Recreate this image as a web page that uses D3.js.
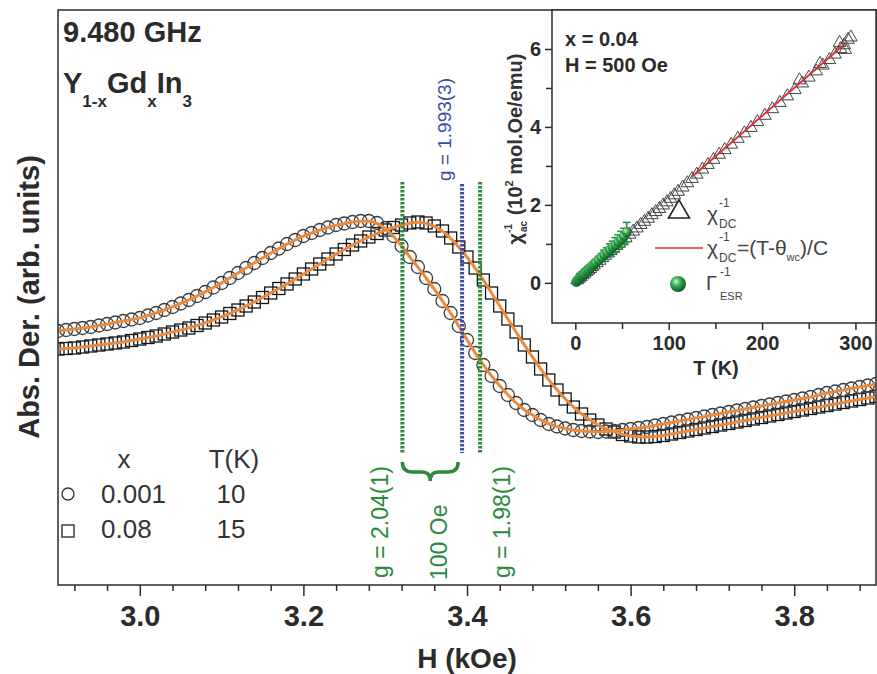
<!DOCTYPE html>
<html>
<head>
<meta charset="utf-8">
<script src="https://cdn.jsdelivr.net/npm/d3@7"></script>
<style>
  body { margin: 0; background: #fff; }
  svg { display: block; font-family: "Liberation Sans", Arial, sans-serif; }
</style>
</head>
<body>
<svg width="877" height="674"></svg>
<script>
// ESR spectra, field in kOe
const fieldH = [
  2.90, 2.91, 2.92, 2.93, 2.94, 2.95, 2.96, 2.97, 2.98, 2.99,
  3.00, 3.01, 3.02, 3.03, 3.04, 3.05, 3.06, 3.07, 3.08, 3.09,
  3.10, 3.11, 3.12, 3.13, 3.14, 3.15, 3.16, 3.17, 3.18, 3.19,
  3.20, 3.21, 3.22, 3.23, 3.24, 3.25, 3.26, 3.27, 3.28, 3.29,
  3.30, 3.31, 3.32, 3.33, 3.34, 3.35, 3.36, 3.37, 3.38, 3.39,
  3.40, 3.41, 3.42, 3.43, 3.44, 3.45, 3.46, 3.47, 3.48, 3.49,
  3.50, 3.51, 3.52, 3.53, 3.54, 3.55, 3.56, 3.57, 3.58, 3.59,
  3.60, 3.61, 3.62, 3.63, 3.64, 3.65, 3.66, 3.67, 3.68, 3.69,
  3.70, 3.71, 3.72, 3.73, 3.74, 3.75, 3.76, 3.77, 3.78, 3.79,
  3.80, 3.81, 3.82, 3.83, 3.84, 3.85, 3.86, 3.87, 3.88, 3.89, 3.90
];

// x = 0.001, T = 10 K (circles)
const derX001 = [
  0.69, 0.70, 0.71, 0.72, 0.73, 0.745, 0.76, 0.775, 0.79, 0.805,
  0.82, 0.845, 0.87, 0.90, 0.93, 0.965, 1.00, 1.04, 1.08, 1.125,
  1.17, 1.22, 1.27, 1.32, 1.37, 1.42, 1.47, 1.515, 1.56, 1.60,
  1.64, 1.67, 1.70, 1.725, 1.75, 1.765, 1.78, 1.79, 1.79, 1.77,
  1.72, 1.64, 1.54, 1.43, 1.33, 1.22, 1.11, 0.99, 0.87, 0.74,
  0.60, 0.47, 0.35, 0.24, 0.14, 0.05, -0.03, -0.10, -0.15, -0.20,
  -0.24, -0.265, -0.285, -0.30, -0.31, -0.315, -0.32, -0.315, -0.31, -0.30,
  -0.29, -0.28, -0.27, -0.255, -0.24, -0.225, -0.21, -0.195, -0.18, -0.165,
  -0.15, -0.135, -0.12, -0.105, -0.09, -0.075, -0.06, -0.045, -0.03, -0.015,
  0.00, 0.015, 0.03, 0.05, 0.07, 0.085, 0.10, 0.115, 0.13, 0.145, 0.16
];

// x = 0.08, T = 15 K (squares)
const derX008 = [
  0.51, 0.515, 0.52, 0.53, 0.54, 0.55, 0.56, 0.57, 0.58, 0.595,
  0.61, 0.625, 0.64, 0.66, 0.68, 0.70, 0.72, 0.745, 0.77, 0.80,
  0.83, 0.865, 0.90, 0.94, 0.98, 1.025, 1.07, 1.115, 1.16, 1.21,
  1.26, 1.31, 1.36, 1.41, 1.46, 1.505, 1.55, 1.59, 1.63, 1.665,
  1.70, 1.725, 1.75, 1.77, 1.78, 1.77, 1.74, 1.69, 1.62, 1.53,
  1.43, 1.32, 1.20, 1.07, 0.94, 0.81, 0.68, 0.55, 0.43, 0.31,
  0.20, 0.10, 0.01, -0.07, -0.14, -0.20, -0.25, -0.29, -0.32, -0.345,
  -0.36, -0.37, -0.37, -0.365, -0.355, -0.34, -0.325, -0.31, -0.295, -0.28,
  -0.265, -0.25, -0.235, -0.22, -0.205, -0.19, -0.175, -0.16, -0.145, -0.13,
  -0.115, -0.10, -0.085, -0.07, -0.055, -0.04, -0.025, -0.01, 0.005, 0.02, 0.035
];

const majorTicksH = [3.0, 3.2, 3.4, 3.6, 3.8];
const minorTicksH = [2.92, 2.96, 3.04, 3.08, 3.12, 3.16, 3.24, 3.28, 3.32, 3.36,
                     3.44, 3.48, 3.52, 3.56, 3.64, 3.68, 3.72, 3.76, 3.84, 3.88];

// resonance fields marked by the dotted lines
const resonanceH = [3.321, 3.394, 3.416];
const resonanceLabels = ['g = 2.04(1)', 'g = 1.993(3)', 'g = 1.98(1)'];

// inset: inverse susceptibility
const tempDC = [2, 4, 6, 8, 10, 12, 14, 16, 18, 20, 23, 26, 29, 32, 35, 38, 41, 44, 47, 50,
  54, 58, 62, 66, 70, 74, 78, 82, 86, 90, 94, 98, 102, 106, 110, 115, 120, 125, 130, 136,
  142, 148, 154, 160, 167, 174, 181, 188, 195, 203, 211, 219, 227, 235, 243, 250, 258, 265,
  272, 278, 284, 288, 292, 295, 283, 289, 240, 262];
const chiDC = [0.07, 0.11, 0.15, 0.2, 0.24, 0.28, 0.32, 0.36, 0.41, 0.45, 0.51, 0.57, 0.64, 0.7,
  0.76, 0.82, 0.88, 0.95, 1.01, 1.07, 1.15, 1.24, 1.32, 1.4, 1.49, 1.57, 1.65, 1.74, 1.82, 1.9,
  1.99, 2.07, 2.16, 2.25, 2.34, 2.45, 2.56, 2.67, 2.78, 2.91, 3.03, 3.16, 3.29, 3.41, 3.55, 3.7,
  3.84, 3.98, 4.13, 4.29, 4.46, 4.62, 4.79, 4.95, 5.12, 5.27, 5.43, 5.58, 5.72, 5.86, 6.0, 6.1,
  6.24, 6.3, 6.16, 5.98, 5.2, 5.62];

const tempESR = [1, 2, 3, 4, 5, 6, 7, 8, 9, 10, 12, 14, 16, 18, 20, 22, 25, 28, 31, 34, 37,
  40, 43, 46, 49, 52, 55];
const invWidthESR = [0.02, 0.05, 0.08, 0.1, 0.12, 0.15, 0.17, 0.2, 0.22, 0.24, 0.29, 0.33, 0.38,
  0.43, 0.47, 0.52, 0.58, 0.65, 0.72, 0.78, 0.85, 0.92, 0.98, 1.05, 1.12, 1.2, 1.3];
const errESR = [0.03, 0.03, 0.03, 0.03, 0.03, 0.04, 0.04, 0.04, 0.05, 0.05, 0.05, 0.06, 0.06,
  0.07, 0.08, 0.08, 0.1, 0.1, 0.12, 0.12, 0.15, 0.15, 0.18, 0.18, 0.2, 0.2, 0.25];

const fitT = [125, 290];
const fitChi = [2.72, 6.16];

const insetTicksT = [0, 100, 200, 300];
const insetMinorT = [50, 150, 250];
const insetTicksChi = [0, 2, 4, 6];
const insetMinorChi = [1, 3, 5];

const green = '#2a8a3e';
const blue = '#3a4ca8';
const orange = '#eb8a3d';
const ink = '#2b2b2b';

const svg = d3.select('svg');

const frame = { left: 58, right: 876, top: 10, bottom: 585 };

const xScale = d3.scaleLinear().domain([2.9, 3.9]).range([frame.left, frame.right]);
const yScale = d3.scaleLinear().domain([-1.85, 3.9]).range([frame.bottom, frame.top]);

const defs = svg.append('defs');
defs.append('clipPath').attr('id', 'mainClip')
  .append('rect')
  .attr('x', frame.left).attr('y', frame.top)
  .attr('width', frame.right - frame.left).attr('height', frame.bottom - frame.top);

const grad = defs.append('radialGradient').attr('id', 'sphere')
  .attr('cx', '38%').attr('cy', '35%').attr('r', '65%');
grad.append('stop').attr('offset', '0%').attr('stop-color', '#c9f5cf');
grad.append('stop').attr('offset', '45%').attr('stop-color', '#35a852');
grad.append('stop').attr('offset', '100%').attr('stop-color', '#0c5e25');

// x-axis, major and minor ticks
svg.append('g')
  .attr('transform', `translate(0, ${frame.bottom})`)
  .call(d3.axisBottom(xScale).tickValues(majorTicksH).tickFormat(d3.format('.1f'))
    .tickSize(11).tickPadding(9))
  .call(g => g.select('.domain').remove())
  .call(g => g.selectAll('line').attr('stroke', ink).attr('stroke-width', 1.5))
  .call(g => g.selectAll('text').attr('fill', ink).attr('font-size', 29)
    .attr('font-weight', 'bold').attr('font-family', null));

svg.append('g')
  .attr('transform', `translate(0, ${frame.bottom})`)
  .call(d3.axisBottom(xScale).tickValues(minorTicksH).tickFormat('').tickSize(6))
  .call(g => g.select('.domain').remove())
  .call(g => g.selectAll('line').attr('stroke', ink).attr('stroke-width', 1.5));

const points = fieldH.map((h, i) => ({ h, a: derX001[i], b: derX008[i] }));

const data = svg.append('g').attr('clip-path', 'url(#mainClip)');

// squares, x = 0.08
data.append('g').selectAll('rect')
  .data(points)
  .join('rect')
  .attr('x', d => xScale(d.h) - 6)
  .attr('y', d => yScale(d.b) - 6)
  .attr('width', 12).attr('height', 12)
  .attr('fill', 'none').attr('stroke', '#141414').attr('stroke-width', 1.3);

// circles, x = 0.001
data.append('g').selectAll('circle')
  .data(points)
  .join('circle')
  .attr('cx', d => xScale(d.h))
  .attr('cy', d => yScale(d.a))
  .attr('r', 6.5)
  .attr('fill', 'none').attr('stroke', '#3c3c3c').attr('stroke-width', 1.3);

// fits
const fitA = d3.line().curve(d3.curveBasis).x(d => xScale(d.h)).y(d => yScale(d.a));
const fitB = d3.line().curve(d3.curveBasis).x(d => xScale(d.h)).y(d => yScale(d.b));
data.append('path').datum(points).attr('d', fitB)
  .attr('fill', 'none').attr('stroke', orange).attr('stroke-width', 3);
data.append('path').datum(points).attr('d', fitA)
  .attr('fill', 'none').attr('stroke', orange).attr('stroke-width', 3);

// resonance lines
const lineColors = [green, blue, green];
const lineTop = [182, 184, 182];
resonanceH.forEach((h, i) => {
  svg.append('line')
    .attr('x1', xScale(h)).attr('x2', xScale(h))
    .attr('y1', lineTop[i]).attr('y2', 453)
    .attr('stroke', lineColors[i]).attr('stroke-width', 4)
    .attr('stroke-dasharray', '2.5,1.5');
});

// g labels
svg.append('text')
  .attr('transform', `translate(${xScale(resonanceH[0]) - 14}, 578) rotate(-90)`)
  .attr('fill', green).attr('font-size', 23).text(resonanceLabels[0]);
svg.append('text')
  .attr('transform', `translate(${xScale(resonanceH[1]) - 11}, 181) rotate(-90)`)
  .attr('fill', blue).attr('font-size', 19).text(resonanceLabels[1]);
svg.append('text')
  .attr('transform', `translate(${xScale(resonanceH[2]) + 30}, 578) rotate(-90)`)
  .attr('fill', green).attr('font-size', 23).text(resonanceLabels[2]);
svg.append('text')
  .attr('transform', `translate(447, 580) rotate(-90)`)
  .attr('fill', green).attr('font-size', 23).text('100 Oe');

// brace between the first two lines
const bx0 = xScale(resonanceH[0]);
const bx1 = xScale(resonanceH[1]) - 4;
const bm = (bx0 + bx1) / 2;
svg.append('path')
  .attr('d', `M${bx0},462 Q${bx0},472 ${bx0 + 10},472 L${bm - 8},472 Q${bm},472 ${bm},481
              Q${bm},472 ${bm + 8},472 L${bx1 - 10},472 Q${bx1},472 ${bx1},462`)
  .attr('fill', 'none').attr('stroke', green).attr('stroke-width', 3.5);

// frame
svg.append('rect')
  .attr('x', frame.left).attr('y', frame.top)
  .attr('width', frame.right - frame.left).attr('height', frame.bottom - frame.top)
  .attr('fill', 'none').attr('stroke', ink).attr('stroke-width', 1.5);

// axis titles
svg.append('text')
  .attr('x', 467).attr('y', 668).attr('text-anchor', 'middle')
  .attr('font-size', 28).attr('font-weight', 'bold').attr('fill', ink)
  .text('H (kOe)');
svg.append('text')
  .attr('transform', 'translate(39, 297) rotate(-90)').attr('text-anchor', 'middle')
  .attr('font-size', 29).attr('font-weight', 'bold').attr('fill', ink)
  .text('Abs. Der. (arb. units)');

// top-left notes
svg.append('text').attr('x', 63).attr('y', 42)
  .attr('font-size', 29).attr('font-weight', 'bold').attr('fill', ink)
  .text('9.480 GHz');
const formula = svg.append('text').attr('x', 63).attr('y', 93)
  .attr('font-size', 29).attr('font-weight', 'bold').attr('fill', ink);
formula.append('tspan').text('Y');
formula.append('tspan').attr('font-size', 17).attr('dy', 14).text('1-x');
formula.append('tspan').attr('dy', -14).text('Gd');
formula.append('tspan').attr('font-size', 17).attr('dy', 14).text('x');
formula.append('tspan').attr('dy', -14).text('In');
formula.append('tspan').attr('font-size', 17).attr('dy', 14).text('3');

// legend
const legend = svg.append('g').attr('fill', '#333').attr('font-size', 26);
legend.append('text').attr('x', 124).attr('y', 468).attr('text-anchor', 'middle').text('x');
legend.append('text').attr('x', 234).attr('y', 468).attr('text-anchor', 'middle').text('T(K)');
legend.append('circle').attr('cx', 68).attr('cy', 494).attr('r', 6)
  .attr('fill', 'none').attr('stroke', '#333').attr('stroke-width', 1.3);
legend.append('text').attr('x', 101).attr('y', 503).text('0.001');
legend.append('text').attr('x', 231).attr('y', 503).attr('text-anchor', 'middle').text('10');
legend.append('rect').attr('x', 62).attr('y', 525).attr('width', 12).attr('height', 12)
  .attr('fill', 'none').attr('stroke', '#222').attr('stroke-width', 1.3);
legend.append('text').attr('x', 101).attr('y', 538).text('0.08');
legend.append('text').attr('x', 231).attr('y', 538).attr('text-anchor', 'middle').text('15');

// ---------------- inset ----------------
const inset = { left: 552, right: 876, top: 10, bottom: 323 };
const ix = d3.scaleLinear().domain([-25, 322]).range([inset.left, inset.right]);
const iy = d3.scaleLinear().domain([-1.03, 7]).range([inset.bottom, inset.top]);

svg.append('rect')
  .attr('x', inset.left).attr('y', inset.top)
  .attr('width', inset.right - inset.left).attr('height', inset.bottom - inset.top)
  .attr('fill', '#fff').attr('stroke', ink).attr('stroke-width', 1.5);

defs.append('clipPath').attr('id', 'insetClip')
  .append('rect')
  .attr('x', inset.left).attr('y', inset.top)
  .attr('width', inset.right - inset.left).attr('height', inset.bottom - inset.top);

const styleTicks = g => {
  g.select('.domain').remove();
  g.selectAll('line').attr('stroke', ink).attr('stroke-width', 1.5);
  g.selectAll('text').attr('fill', ink).attr('font-size', 20)
    .attr('font-weight', 'bold').attr('font-family', null);
};

svg.append('g').attr('transform', `translate(0, ${inset.bottom})`)
  .call(d3.axisBottom(ix).tickValues(insetTicksT).tickSize(7).tickPadding(6))
  .call(styleTicks);
svg.append('g').attr('transform', `translate(0, ${inset.bottom})`)
  .call(d3.axisBottom(ix).tickValues(insetMinorT).tickFormat('').tickSize(6))
  .call(styleTicks);
svg.append('g').attr('transform', `translate(${inset.left}, 0)`)
  .call(d3.axisLeft(iy).tickValues(insetTicksChi).tickSize(7).tickPadding(4))
  .call(styleTicks);
svg.append('g').attr('transform', `translate(${inset.left}, 0)`)
  .call(d3.axisLeft(iy).tickValues(insetMinorChi).tickFormat('').tickSize(6))
  .call(styleTicks);

svg.append('text').attr('x', 716).attr('y', 375).attr('text-anchor', 'middle')
  .attr('font-size', 20).attr('font-weight', 'bold').attr('fill', ink).text('T (K)');

const ylab = svg.append('text')
  .attr('transform', 'translate(522, 149) rotate(-90)').attr('text-anchor', 'middle')
  .attr('font-size', 20).attr('font-weight', 'bold').attr('fill', '#333');
ylab.append('tspan').text('χ');
ylab.append('tspan').attr('font-size', 10).attr('dy', -10).text('-1');
ylab.append('tspan').attr('font-size', 10).attr('dy', 15).attr('dx', -8).text('ac');
ylab.append('tspan').attr('dy', -5).text(' (10');
ylab.append('tspan').attr('font-size', 11).attr('dy', -9).text('2');
ylab.append('tspan').attr('dy', 9).text(' mol.Oe/emu)');

svg.append('text').attr('x', 565).attr('y', 46)
  .attr('font-size', 20).attr('font-weight', 'bold').attr('fill', ink).text('x = 0.04');
svg.append('text').attr('x', 565).attr('y', 72)
  .attr('font-size', 20).attr('font-weight', 'bold').attr('fill', ink).text('H = 500 Oe');

const idata = svg.append('g').attr('clip-path', 'url(#insetClip)');

const dcPoints = tempDC.map((t, i) => ({ t, c: chiDC[i] }));
idata.append('g').selectAll('path')
  .data(dcPoints)
  .join('path')
  .attr('d', d3.symbol(d3.symbolTriangle, 70))
  .attr('transform', d => `translate(${ix(d.t)}, ${iy(d.c)})`)
  .attr('fill', 'none').attr('stroke', '#444').attr('stroke-width', 1);

const fitPoints = fitT.map((t, i) => ({ t, c: fitChi[i] }));
idata.append('path').datum(fitPoints)
  .attr('d', d3.line().x(d => ix(d.t)).y(d => iy(d.c)))
  .attr('stroke', '#d8323c').attr('stroke-width', 2);

const esrPoints = tempESR.map((t, i) => ({ t, c: invWidthESR[i], e: errESR[i] }));
const esr = idata.append('g');
esr.selectAll('line.err')
  .data(esrPoints)
  .join('line')
  .attr('class', 'err')
  .attr('x1', d => ix(d.t)).attr('x2', d => ix(d.t))
  .attr('y1', d => iy(d.c - d.e)).attr('y2', d => iy(d.c + d.e))
  .attr('stroke', green).attr('stroke-width', 1.5);
esr.selectAll('line.cap')
  .data(esrPoints.flatMap(d => [d.c - d.e, d.c + d.e].map(v => ({ t: d.t, v }))))
  .join('line')
  .attr('class', 'cap')
  .attr('x1', d => ix(d.t) - 4).attr('x2', d => ix(d.t) + 4)
  .attr('y1', d => iy(d.v)).attr('y2', d => iy(d.v))
  .attr('stroke', green).attr('stroke-width', 1.5);
esr.selectAll('circle')
  .data(esrPoints)
  .join('circle')
  .attr('cx', d => ix(d.t)).attr('cy', d => iy(d.c)).attr('r', 5)
  .attr('fill', 'url(#sphere)');

// inset legend
const il = svg.append('g').attr('fill', '#444');
il.append('path').attr('d', d3.symbol(d3.symbolTriangle, 190))
  .attr('transform', 'translate(679, 212)')
  .attr('fill', 'none').attr('stroke', '#222').attr('stroke-width', 1.6);
il.append('text').attr('x', 707).attr('y', 221).attr('font-size', 21).text('χ');
il.append('text').attr('x', 719).attr('y', 207).attr('font-size', 12).text('-1');
il.append('text').attr('x', 719).attr('y', 228).attr('font-size', 12).text('DC');

il.append('line').attr('x1', 655).attr('x2', 703).attr('y1', 248).attr('y2', 248)
  .attr('stroke', '#d8323c').attr('stroke-width', 1.5);
il.append('text').attr('x', 707).attr('y', 255).attr('font-size', 21).text('χ');
il.append('text').attr('x', 719).attr('y', 241).attr('font-size', 12).text('-1');
il.append('text').attr('x', 719).attr('y', 262).attr('font-size', 12).text('DC');
const fitLabel = il.append('text').attr('x', 737).attr('y', 255).attr('font-size', 21);
fitLabel.append('tspan').text('=(T-θ');
fitLabel.append('tspan').attr('font-size', 11).attr('dy', 6).text('wc');
fitLabel.append('tspan').attr('dy', -6).text(')/C');

il.append('circle').attr('cx', 678).attr('cy', 284).attr('r', 8).attr('fill', 'url(#sphere)');
il.append('text').attr('x', 706).attr('y', 290).attr('font-size', 20).text('Γ');
il.append('text').attr('x', 720).attr('y', 276).attr('font-size', 12).text('-1');
il.append('text').attr('x', 720).attr('y', 300).attr('font-size', 11).text('ESR');
</script>
</body>
</html>
